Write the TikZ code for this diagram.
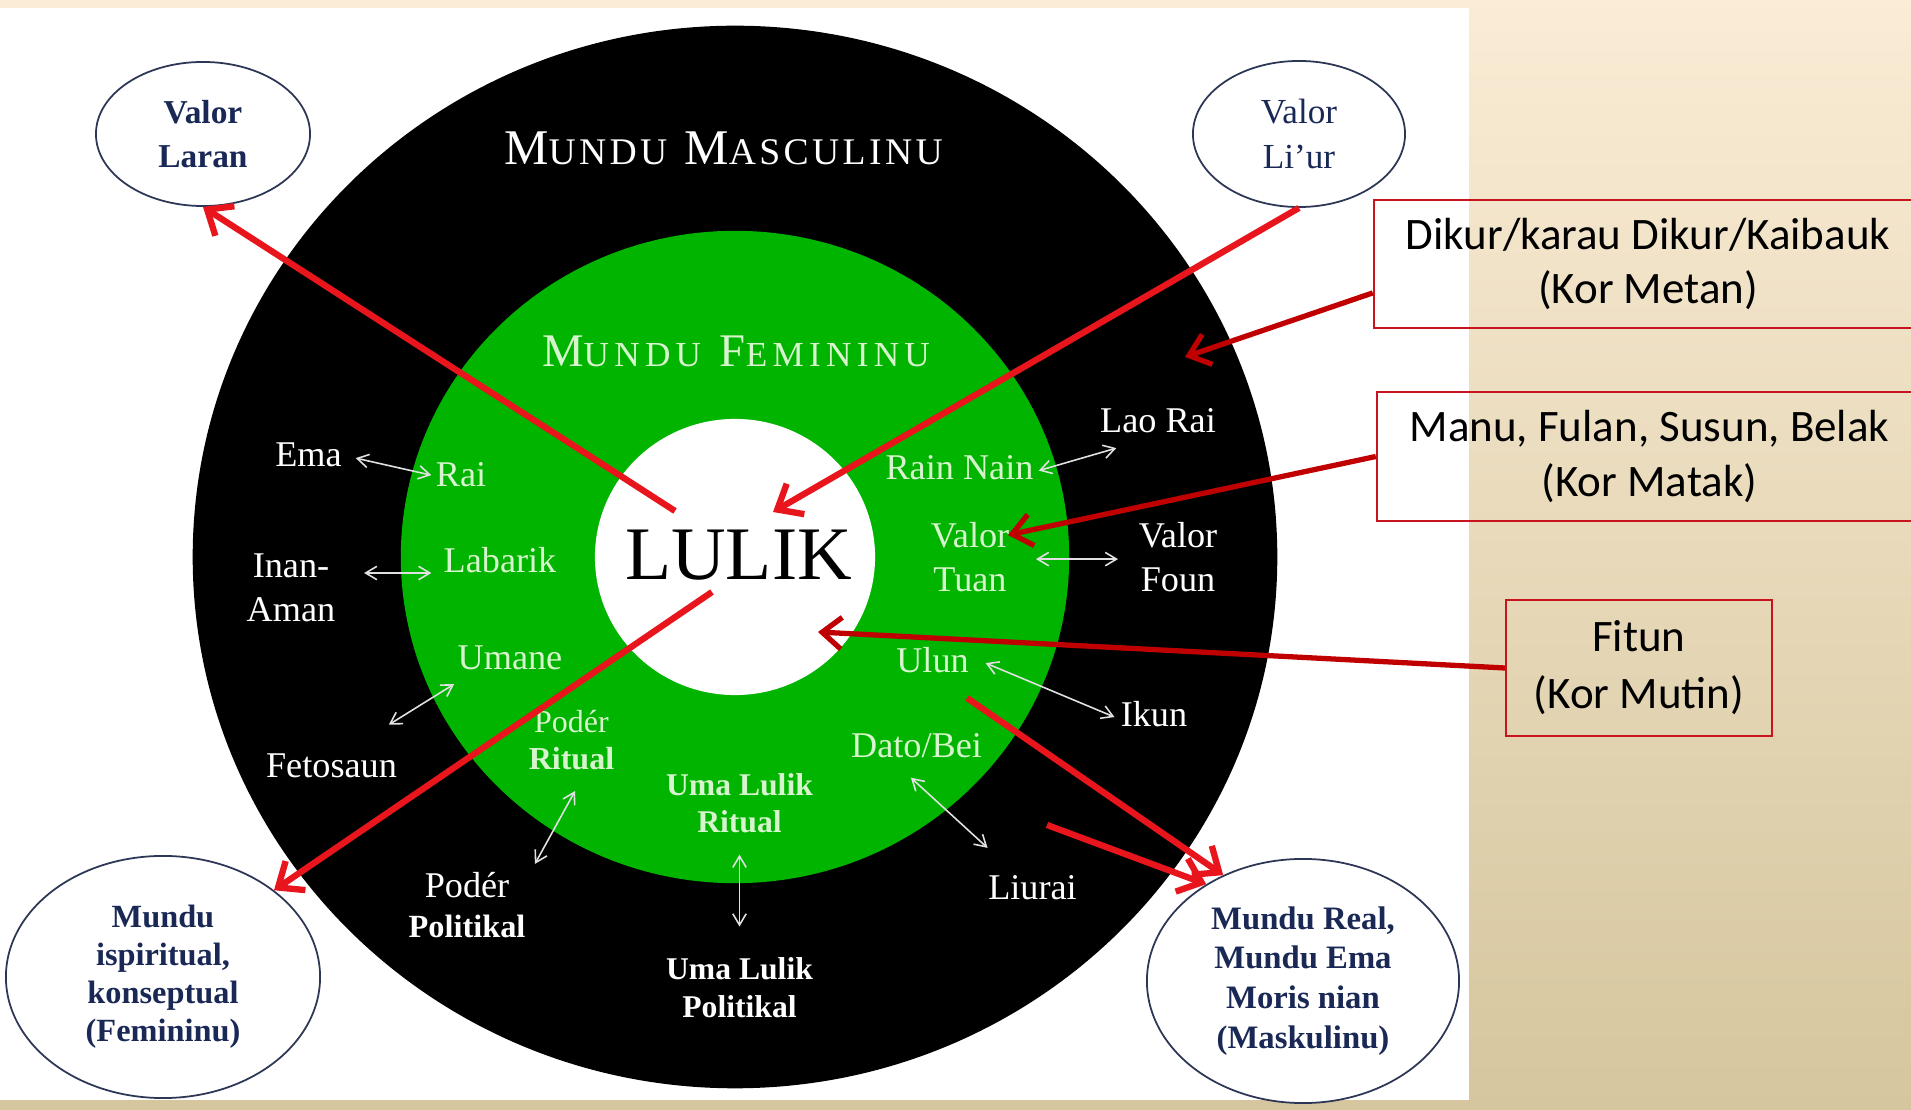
\documentclass[tikz,border=0pt]{standalone}
\usepackage{fontspec}
\setmainfont{Liberation Serif}
\newfontfamily\korfont{Carlito}
\usetikzlibrary{shapes.geometric,arrows.meta}

\definecolor{ringgreen}{RGB}{0,180,0}
\definecolor{leaf}{RGB}{215,245,205}
\definecolor{pale}{RGB}{225,225,225}
\definecolor{navy}{RGB}{25,40,85}
\definecolor{rimnavy}{RGB}{45,55,85}
\definecolor{brightred}{RGB}{232,22,28}
\definecolor{darkred}{RGB}{192,0,0}
\definecolor{boxred}{RGB}{200,20,30}
\definecolor{sandtop}{RGB}{250,236,213}
\definecolor{sandbot}{RGB}{213,198,158}

\begin{document}
\begin{tikzpicture}[x=0.01cm,y=-0.01cm,
    blacklabel/.style={text=white,inner sep=0pt,align=center,font=\fontsize{10.3}{12.6}\selectfont},
    greenlabel/.style={blacklabel,text=leaf},
    bubble/.style={ellipse,draw=rimnavy,line width=0.5pt,fill=white,text=navy,inner sep=0pt,align=center},
    korbox/.style={draw=boxred,line width=0.6pt,inner sep=0pt,align=center,font=\korfont\fontsize{12.8}{15.5}\selectfont},
    lulikarrow/.style={brightred,line width=1.8pt,-{Straight Barb[length=6pt,width=10pt]}},
    korarrow/.style={darkred,line width=1.5pt,-{Straight Barb[length=5.5pt,width=9pt]}},
    pairarrow/.style={pale,line width=0.45pt,{Straight Barb[length=3.2pt,width=3.8pt]}-{Straight Barb[length=3.2pt,width=3.8pt]}}]
    \useasboundingbox (0,0) rectangle (1911,1110);
    \shade[top color=sandtop,bottom color=sandbot] (0,0) rectangle (1911,1110);
    \fill[white] (0,8) rectangle (1469,1100);
    % Define the rings
    \fill[black] (735,557) ellipse [x radius=5.42cm,y radius=5.31cm];
    \fill[ringgreen] (735,557) ellipse [x radius=3.34cm,y radius=3.26cm];
    \fill[white] (735,557) ellipse [x radius=1.40cm,y radius=1.38cm];
    % Define the nodes for the two worlds
    \node[blacklabel,anchor=base,font=\fontsize{14.2}{16}\selectfont\addfontfeature{LetterSpace=9}] (masculinu) at (723.5,165)
        {M{\fontsize{10.7}{12}\selectfont UNDU} M{\fontsize{10.7}{12}\selectfont ASCULINU}};
    \node[greenlabel,anchor=base,font=\fontsize{13.3}{15}\selectfont\addfontfeature{LetterSpace=15}] (femininu) at (736,367)
        {M{\fontsize{10}{12}\selectfont UNDU} F{\fontsize{10}{12}\selectfont EMININU}};
    \node[anchor=base,inner sep=0pt,font=\fontsize{21.5}{24}\selectfont] (lulik) at (738.5,580) {LULIK};
    \node[blacklabel,anchor=base] (ema) at (308.5,467) {Ema};
    \node[greenlabel,anchor=base] (rai) at (461,487) {Rai};
    \node[blacklabel] (inan) at (291,588) {Inan-\\Aman};
    \node[greenlabel,anchor=base] (labarik) at (500,573) {Labarik};
    \node[greenlabel,anchor=base] (umane) at (510,670) {Umane};
    \node[blacklabel,anchor=base] (fetosaun) at (331.5,778) {Fetosaun};
    \node[greenlabel,font=\fontsize{9.1}{10.5}\selectfont] (poderrit) at (571.5,740.5) {Podér\\\textbf{Ritual}};
    \node[blacklabel,font=\fontsize{10.3}{11.4}\selectfont] (poderpol) at (467,905.5) {Podér\\{\bfseries\fontsize{9.2}{11.4}\selectfont Politikal}};
    \node[greenlabel,font=\bfseries\fontsize{9}{10.6}\selectfont] (umarit) at (739.5,803) {Uma Lulik\\Ritual};
    \node[blacklabel,font=\bfseries\fontsize{9}{10.8}\selectfont] (umapol) at (739.5,988) {Uma Lulik\\Politikal};
    \node[greenlabel,anchor=base] (dato) at (916.5,758) {Dato/Bei};
    \node[blacklabel,anchor=base] (liurai) at (1032.5,900) {Liurai};
    \node[greenlabel,anchor=base] (ulun) at (932.5,673) {Ulun};
    \node[blacklabel,anchor=base] (ikun) at (1154,727) {Ikun};
    \node[greenlabel] (tuan) at (970,557) {Valor\\Tuan};
    \node[blacklabel] (foun) at (1178,557) {Valor\\Foun};
    \node[greenlabel,anchor=base] (rainnain) at (959.5,480) {Rain Nain};
    \node[blacklabel,anchor=base] (laorai) at (1158,433) {Lao Rai};
    % Connect the nodes across the rings
    \draw[pairarrow] ([xshift=3.8pt,yshift=-0.8pt]ema.east) -- ([xshift=-1.1pt]rai.west);
    \draw[pairarrow] ([xshift=8pt]inan.east |- labarik.base west) -- ([xshift=-3.3pt]labarik.base west);
    \draw[pairarrow] ([xshift=-0.8pt,yshift=-3.7pt]umane.south west) -- ([xshift=-2.5pt,yshift=8.2pt]fetosaun.north east);
    \draw[pairarrow] ([xshift=1pt,yshift=-5.7pt]poderrit.south) -- ([xshift=2.5pt,yshift=2.3pt]poderpol.north east);
    \draw[pairarrow] ([yshift=-6pt]umarit.south) -- ([yshift=8.7pt]umapol.north);
    \draw[pairarrow] ([xshift=-1.6pt,yshift=-5.3pt]dato.south) -- ([yshift=7.8pt]liurai.north west);
    \draw[pairarrow] ([xshift=4.6pt,yshift=-0.7pt]ulun.east) -- ([xshift=-1.6pt,yshift=-0.7pt]ikun.west);
    \draw[pairarrow] ([xshift=7.4pt,yshift=-0.6pt]tuan.east) -- ([xshift=-5.7pt,yshift=-0.6pt]foun.west);
    \draw[pairarrow] ([xshift=1.3pt,yshift=-0.7pt]rainnain.east) -- ([xshift=4.8pt,yshift=-4pt]laorai.south west);
    % Define the nodes for the four values
    \node[bubble,minimum width=2.14cm,minimum height=1.44cm,font=\bfseries\fontsize{9.5}{12.5}\selectfont] (laran) at (203,134) {Valor\\Laran};
    \node[bubble,minimum width=2.12cm,minimum height=1.46cm,font=\fontsize{10}{12.6}\selectfont] (liur) at (1299,134) {Valor\\Li’ur};
    \node[bubble,minimum width=3.14cm,minimum height=2.42cm,font=\bfseries\fontsize{9.2}{10.8}\selectfont] (ispiritual) at (163,977)
        {Mundu\\ispiritual,\\konseptual\\(Femininu)};
    \node[bubble,minimum width=3.12cm,minimum height=2.44cm,font=\bfseries\fontsize{9.3}{11.3}\selectfont] (real) at (1303,981)
        {Mundu Real,\\Mundu Ema\\Moris nian\\(Maskulinu)};
    % Connect LULIK with the four values
    \coordinate (lulikup) at (675,511);
    \coordinate (liurhead) at (773,512);
    \coordinate (lulikdown) at (712,592);
    \coordinate (ulunfoot) at (967,698);
    \coordinate (liuraitop) at (1047,825);
    \draw[lulikarrow] (lulikup) -- (laran.south);
    \draw[lulikarrow] (liur.south) -- (liurhead);
    \draw[lulikarrow] (lulikdown) -- (ispiritual.38);
    \draw[lulikarrow] (ulunfoot) -- (real.127);
    \draw[lulikarrow] (liuraitop) -- (real.135);
    % Define the nodes for the colours
    \node[korbox,minimum width=5.48cm,minimum height=1.285cm] (metanbox) at (1648,264) {Dikur/karau Dikur/Kaibauk\\(Kor Metan)};
    \node[korbox,minimum width=5.45cm,minimum height=1.29cm] (matakbox) at (1649.5,456.5) {Manu, Fulan, Susun, Belak\\(Kor Matak)};
    \node[korbox,minimum width=2.66cm,minimum height=1.36cm,font=\korfont\fontsize{12.8}{16.2}\selectfont] (mutinbox) at (1639,668) {Fitun\\(Kor Mutin)};
    % Connect the colours with the rings
    \coordinate (metan) at (1185,357);
    \coordinate (matak) at (1008,535);
    \coordinate (mutin) at (818,632);
    \draw[korarrow] (metanbox.186) -- (metan);
    \draw[korarrow] (matakbox.west) -- (matak);
    \draw[korarrow] (mutinbox.west) -- (mutin);
\end{tikzpicture}
\end{document}
